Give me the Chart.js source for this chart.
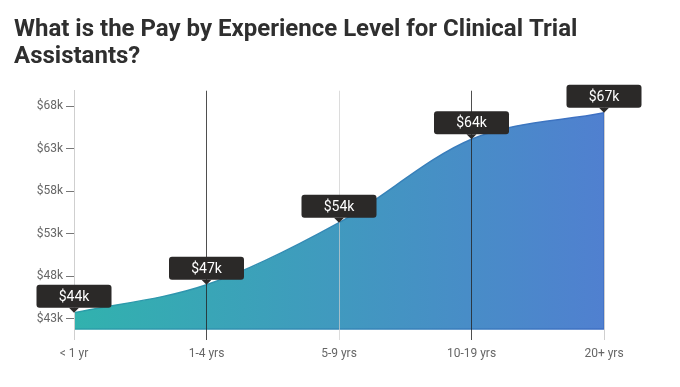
<!DOCTYPE html>
<html>
<head>
<meta charset="utf-8">
<script src="https://cdn.jsdelivr.net/npm/chart.js@4"></script>
<style>
  html, body { margin: 0; padding: 0; background: #fff; }
  #wrap { width: 680px; height: 387px; }
</style>
</head>
<body>
<div id="wrap"><canvas id="payChart" width="680" height="387"></canvas></div>
<script>
// experience levels and pay (thousands of dollars)
const levels = ['< 1 yr', '1-4 yrs', '5-9 yrs', '10-19 yrs', '20+ yrs'];
const pay = [43.7, 47.0, 54.3, 64.1, 67.2];
const yTicks = [43, 48, 53, 58, 63, 68];

// grid line colour for each category line
const gridColors = ['#cfcfcf', 'rgba(35,35,35,0.8)', 'rgba(205,205,205,0.7)', 'rgba(35,35,35,0.8)', '#cfcfcf'];

// bottom and right edge of the area + permanent price boxes
const priceBoxes = {
    id: 'priceBoxes',
    afterDatasetsDraw(chart) {
        const ctx = chart.ctx;
        const area = chart.chartArea;
        const meta = chart.getDatasetMeta(0);
        const last = meta.data[meta.data.length - 1];
        ctx.save();
        const g = ctx.createLinearGradient(area.left, 0, area.right, 0);
        g.addColorStop(0, '#2a9fa8');
        g.addColorStop(1, '#3f6fc4');
        ctx.strokeStyle = g;
        ctx.lineWidth = 1.5;
        ctx.beginPath();
        ctx.moveTo(area.left, area.bottom);
        ctx.lineTo(last.x, area.bottom);
        ctx.lineTo(last.x, last.y);
        ctx.stroke();
        ctx.restore();
    },
    afterDraw(chart) {
        const ctx = chart.ctx;
        const meta = chart.getDatasetMeta(0);
        ctx.save();
        meta.data.forEach(function (pt, i) {
            const w = 75, h = 23, r = 3;
            const x = pt.x - w / 2;
            const y = pt.y - 5 - h;
            ctx.fillStyle = '#2b2928';
            ctx.beginPath();
            ctx.roundRect(x, y, w, h, r);
            ctx.fill();
            // caret
            ctx.beginPath();
            ctx.moveTo(pt.x - 5, y + h);
            ctx.lineTo(pt.x + 5, y + h);
            ctx.lineTo(pt.x, pt.y);
            ctx.closePath();
            ctx.fill();
            ctx.fillStyle = '#fff';
            ctx.font = '14px Roboto';
            ctx.textAlign = 'center';
            ctx.textBaseline = 'middle';
            ctx.fillText('$' + Math.round(pay[i]) + 'k', pt.x, y + h / 2 + 1);
        });
        ctx.restore();
    }
};

function areaGradient(context, c1, c2) {
    const area = context.chart.chartArea;
    if (!area) return c1;
    const g = context.chart.ctx.createLinearGradient(area.left, 0, area.right, 0);
    g.addColorStop(0, c1);
    g.addColorStop(1, c2);
    return g;
}

const ctx = document.getElementById('payChart').getContext('2d');
const payChart = new Chart(ctx, {
    type: 'line',
    data: {
        labels: levels,
        datasets: [{
            data: pay,
            fill: 'start',
            cubicInterpolationMode: 'monotone',
            borderWidth: 1.5,
            pointRadius: 0,
            backgroundColor: c => areaGradient(c, '#31b2ae', '#5080d0'),
            borderColor: c => areaGradient(c, '#2a9fa8', '#3f6fc4')
        }]
    },
    options: {
        responsive: false,
        animation: false,
        layout: { padding: { left: 14, right: 76, top: 16, bottom: 0 } },
        plugins: {
            legend: { display: false },
            tooltip: { enabled: false },
            title: {
                display: true,
                text: ['What is the Pay by Experience Level for Clinical Trial', 'Assistants?'],
                align: 'start',
                color: '#2f2f2f',
                font: { family: 'Roboto', size: 24, weight: 'bold', lineHeight: 1.14 },
                padding: { top: 0, bottom: 20 }
            }
        },
        scales: {
            x: {
                offset: false,
                border: { display: false },
                grid: {
                    z: 1,
                    color: gridColors,
                    tickLength: 11
                },
                ticks: {
                    color: '#666',
                    padding: 7,
                    font: { family: 'Roboto', size: 12 }
                },
                afterFit(scale) { scale.height = 58; }
            },
            y: {
                min: 41.8,
                max: 69.8,
                border: { color: '#cfcfcf' },
                grid: {
                    drawOnChartArea: false,
                    tickLength: 8,
                    tickColor: '#777'
                },
                ticks: {
                    color: '#666',
                    padding: 3,
                    font: { family: 'Roboto', size: 12 },
                    callback: v => '$' + v + 'k'
                },
                afterBuildTicks(scale) {
                    scale.ticks = yTicks.map(v => ({ value: v }));
                },
                afterFit(scale) { scale.width = 60; }
            }
        }
    },
    plugins: [priceBoxes]
});
</script>
</body>
</html>
